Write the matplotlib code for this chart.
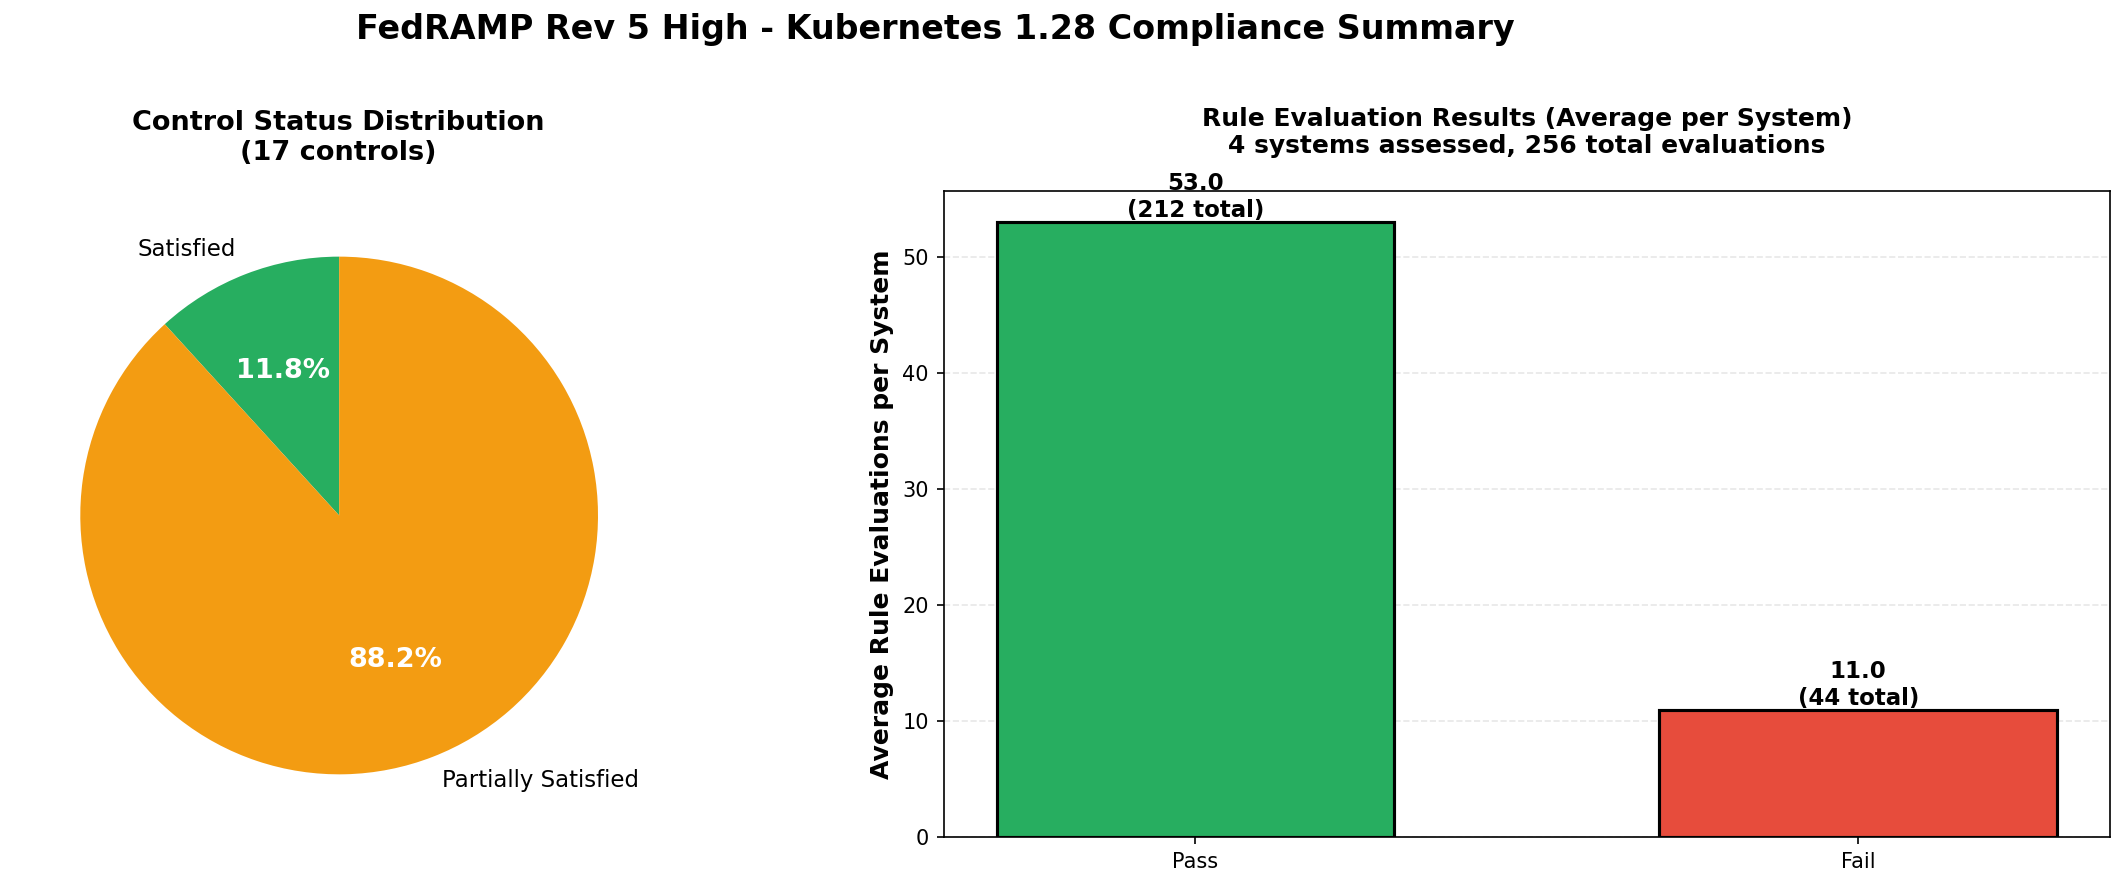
import matplotlib
matplotlib.use("Agg")
import matplotlib.pyplot as plt

pie_labels = ["Satisfied", "Partially Satisfied"]
pie_counts = [2, 15]
pie_colors = ["#27ae60", "#f39c12"]

bar_cats = ["Pass", "Fail"]
bar_avg = [53.0, 11.0]
bar_total = [212, 44]
bar_colors = ["#27ae60", "#e74c3c"]

fig = plt.figure(figsize=(2125/150, 888/150), dpi=150)
fig.suptitle("FedRAMP Rev 5 High - Kubernetes 1.28 Compliance Summary", fontsize=16, fontweight="bold",
             x=0.44, y=0.985)

ax1 = fig.add_axes([0.0376, 0.128, 0.244, 0.583])
wedges, texts, autotexts = ax1.pie(pie_counts, labels=pie_labels, colors=pie_colors, autopct="%1.1f%%",
                                   startangle=90, radius=1.25, textprops={"fontsize": 11})
for t in autotexts:
    t.set_color("white"); t.set_fontweight("bold"); t.set_fontsize(13)
ax1.set_xlim(-1.25, 1.25); ax1.set_ylim(-1.25, 1.25)
ax1.set_aspect("equal")
fig.text(0.159, 0.845, "Control Status Distribution\n(17 controls)", ha="center", va="center",
         fontsize=13, fontweight="bold")

ax2 = fig.add_axes([0.444, 0.057, 0.549, 0.728])
bars = ax2.bar(bar_cats, bar_avg, color=bar_colors, edgecolor="black", linewidth=1.5, width=0.6)
for b, v, t in zip(bars, bar_avg, bar_total):
    ax2.text(b.get_x() + b.get_width()/2, v + 0.0, f"{v:.1f}\n({t} total)", ha="center", va="bottom",
             fontsize=11, fontweight="bold")
ax2.set_ylim(0, 55.65)
ax2.set_ylabel("Average Rule Evaluations per System", fontsize=12, fontweight="bold")
ax2.set_title("Rule Evaluation Results (Average per System)\n4 systems assessed, 256 total evaluations",
              fontsize=12, fontweight="bold", pad=18)
ax2.yaxis.grid(True, linestyle="--", alpha=0.3)
ax2.set_axisbelow(True)

fig.savefig("out.png", dpi=150)
